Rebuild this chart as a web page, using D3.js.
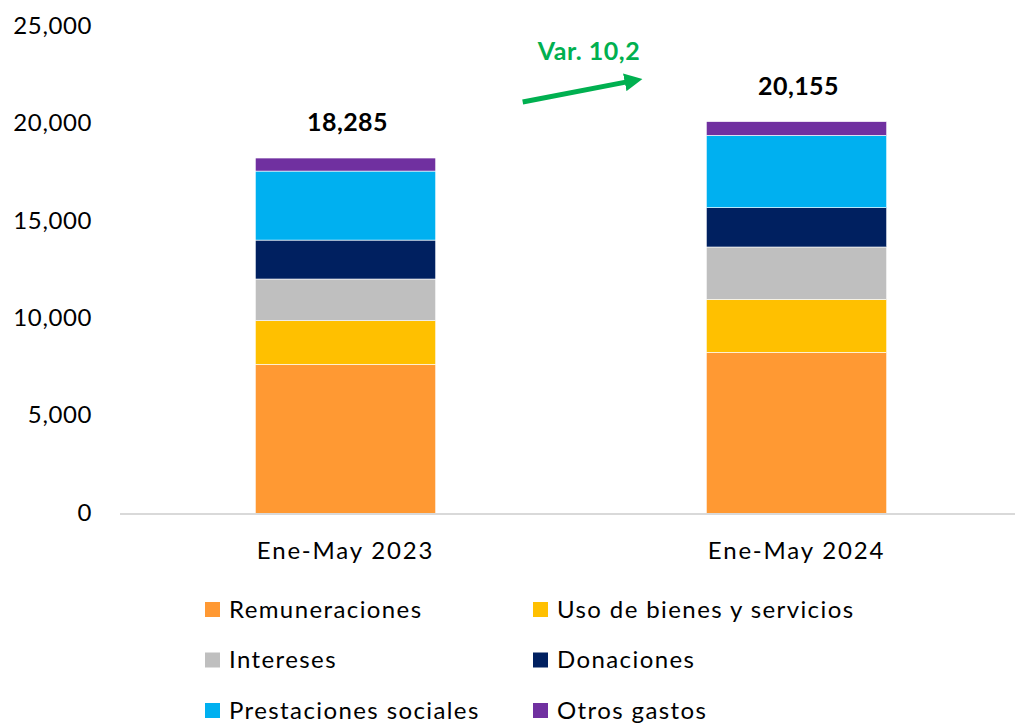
<!DOCTYPE html>
<html>
<head>
<meta charset="utf-8">
<script src="https://cdn.jsdelivr.net/npm/d3@7"></script>
<style>
  body { margin: 0; background: #fff; }
  text { font-family: Lato, "Open Sans", sans-serif; }
</style>
</head>
<body>
<svg id="graph"></svg>
<script>
// data
var categories = ["Ene-May 2023", "Ene-May 2024"];
var seriesNames = ["Remuneraciones", "Uso de bienes y servicios", "Intereses", "Donaciones", "Prestaciones sociales", "Otros gastos"];
var seriesColors = ["#FF9933", "#FFC000", "#BFBFBF", "#002060", "#00B0F0", "#7030A0"];
var remuneraciones = [7690, 8305];
var usoBienes = [2240, 2720];
var intereses = [2140, 2690];
var donaciones = [2000, 2020];
var prestaciones = [3545, 3715];
var otrosGastos = [670, 705];
var totals = [18285, 20155];
var yTicks = [0, 5000, 10000, 15000, 20000, 25000];
var variationLabel = "Var. 10,2";

var screen = {width: 1015, height: 725};

var svg = d3.select("#graph")
  .attr("width", screen.width)
  .attr("height", screen.height);

// build rows for stacking
var seriesValues = [remuneraciones, usoBienes, intereses, donaciones, prestaciones, otrosGastos];
var rows = categories.map(function(c, i){
  var row = {cat: c};
  seriesNames.forEach(function(s, j){ row[s] = seriesValues[j][i]; });
  return row;
});
var stacked = d3.stack().keys(seriesNames)(rows);

var xScale = d3.scaleBand()
  .domain(categories)
  .range([120, 1022])
  .paddingInner(0.6)
  .paddingOuter(0.3);

var yScale = d3.scaleLinear()
  .domain([0, 25000])
  .range([514, 27.3]);

// y axis labels (no line, no ticks)
var yAxis = d3.axisLeft(yScale)
  .tickValues(yTicks)
  .tickFormat(d3.format(","))
  .tickSize(0)
  .tickPadding(0);

var yAxisG = svg.append("g")
  .attr("transform", "translate(92,-1.5)")
  .call(yAxis);
yAxisG.select(".domain").remove();
yAxisG.selectAll("text")
  .attr("font-size", 24)
  .attr("letter-spacing", 0.6)
  .attr("fill", "#000")
  .style("font-family", "Lato, sans-serif");

// bars
var layers = svg.append("g").selectAll("g")
  .data(stacked)
  .enter()
  .append("g")
  .attr("fill", function(d, i){ return seriesColors[i]; });

layers.selectAll("rect")
  .data(function(d){ return d; })
  .enter()
  .append("rect")
  .attr("x", function(d){ return xScale(d.data.cat); })
  .attr("width", xScale.bandwidth())
  .attr("y", function(d){ return yScale(d[1]); })
  .attr("height", function(d){ return yScale(d[0]) - yScale(d[1]); })
  .style("stroke", "#ffffff")
  .style("stroke-width", 0.6);

// x axis line and labels
var xAxis = d3.axisBottom(xScale).tickSize(0).tickPadding(0);
var xAxisG = svg.append("g")
  .attr("transform", "translate(0," + yScale(0) + ")")
  .call(xAxis);
xAxisG.select(".domain")
  .attr("stroke", "#D9D9D9")
  .attr("stroke-width", 2)
  .attr("d", "M120,0H1015");
xAxisG.selectAll("text")
  .attr("y", 45)
  .attr("dy", 0)
  .attr("font-size", 24)
  .attr("letter-spacing", 1.8)
  .attr("fill", "#000")
  .style("font-family", "Lato, sans-serif");

// total labels
svg.append("g").selectAll("text")
  .data(categories)
  .enter()
  .append("text")
  .attr("x", function(d){ return xScale(d) + xScale.bandwidth()/2 + 2; })
  .attr("y", function(d, i){ return yScale(totals[i]) - 27; })
  .attr("text-anchor", "middle")
  .attr("font-size", 25)
  .attr("font-weight", "bold")
  .attr("letter-spacing", 0.4)
  .text(function(d, i){ return d3.format(",")(totals[i]); });

// variation arrow
var gap0 = xScale(categories[0]) + xScale.bandwidth();
var gap1 = xScale(categories[1]);
var green = "#00B050";
svg.append("defs").append("marker")
  .attr("id", "arrowHead")
  .attr("viewBox", "0 0 10 10")
  .attr("refX", 2)
  .attr("refY", 5)
  .attr("markerWidth", 3.6)
  .attr("markerHeight", 3.6)
  .attr("orient", "auto")
  .append("path")
  .attr("d", "M0,0L10,5L0,10Z")
  .attr("fill", green);

svg.append("line")
  .attr("x1", gap0 + 87)
  .attr("y1", yScale(totals[0]) - 56)
  .attr("x2", gap1 - 78)
  .attr("y2", yScale(totals[1]) - 40)
  .attr("stroke", green)
  .attr("stroke-width", 5)
  .attr("marker-end", "url(#arrowHead)");

svg.append("text")
  .attr("x", (gap0 + gap1) / 2 + 18)
  .attr("y", 60)
  .attr("text-anchor", "middle")
  .attr("font-size", 25)
  .attr("font-weight", "bold")
  .attr("letter-spacing", 0.5)
  .attr("fill", green)
  .text(variationLabel);

// legend
var legend = svg.append("g")
  .attr("font-size", 24);

var legendItems = legend.selectAll("g")
  .data(seriesNames)
  .enter()
  .append("g")
  .attr("transform", function(d, i){
    var col = i % 2;
    var row = Math.floor(i / 2);
    return "translate(" + (205 + col * 328) + "," + (602 + row * 50.5) + ")";
  });

legendItems.append("rect")
  .attr("width", 15)
  .attr("height", 15)
  .attr("fill", function(d, i){ return seriesColors[i]; });

legendItems.append("text")
  .attr("x", 24)
  .attr("y", 15.5)
  .attr("letter-spacing", 1.4)
  .attr("fill", "#000")
  .text(function(d){ return d; });
</script>
</body>
</html>
